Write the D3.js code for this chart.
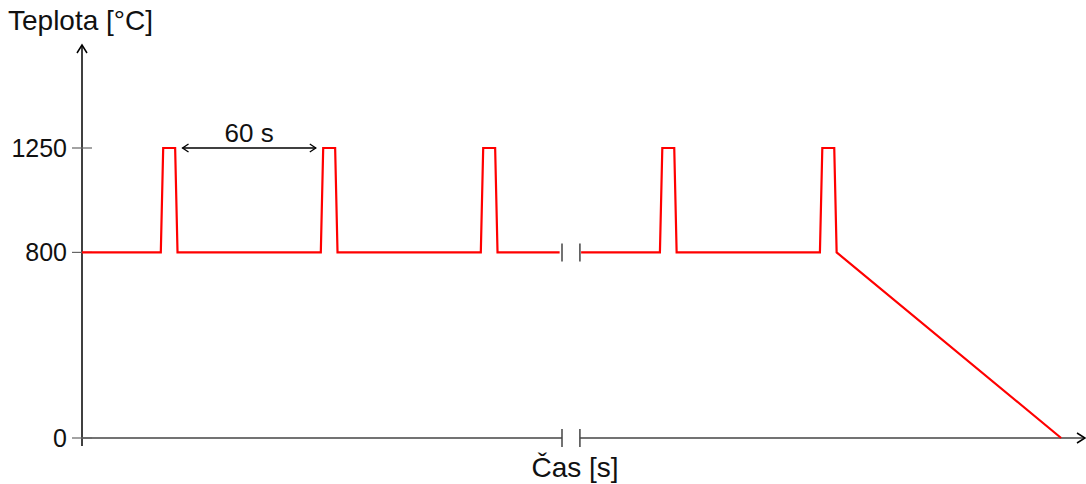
<!DOCTYPE html>
<html>
<head>
<meta charset="utf-8">
<script src="https://cdn.jsdelivr.net/npm/d3@7"></script>
<style>
  body { margin: 0; background: #fff; }
  svg text { font-family: "Liberation Sans", Arial, sans-serif; fill: #111; }
</style>
</head>
<body>
<svg width="1086" height="484"></svg>
<script>
// temperature profile, time in seconds (compressed axis with a break)
const seg1Time = [0, 33, 34, 39, 40, 100, 101, 106, 107, 167, 168, 173, 174, 200];
const seg1Temp = [800, 800, 1250, 1250, 800, 800, 1250, 1250, 800, 800, 1250, 1250, 800, 800];
const seg2Time = [209, 242, 243, 248, 249, 309, 310, 315, 316, 410];
const seg2Temp = [800, 800, 1250, 1250, 800, 800, 1250, 1250, 800, 0];
const yTicks = [0, 800, 1250];
const breakAt = [201, 208.5];
const gapFrom = 40, gapTo = 100; // the "60 s" gap
const gapLabel = "60 s";

const svg = d3.select("svg");
const x = d3.scaleLinear([0, 420], [82, 1085]);
const y = d3.scaleLinear([0, 1250], [438, 148]);

// y axis
svg.append("line").attr("x1", 82).attr("x2", 82).attr("y1", 46).attr("y2", 446)
  .attr("stroke", "#000").attr("stroke-width", 1.5);
svg.append("path").attr("d", "M77,53 L82,45 L87,53").attr("fill", "none")
  .attr("stroke", "#000").attr("stroke-width", 1.5);

// x axis with break
svg.append("line").attr("x1", 82).attr("x2", x(breakAt[0])).attr("y1", y(0)).attr("y2", y(0))
  .attr("stroke", "#444").attr("stroke-width", 1.5);
svg.append("line").attr("x1", x(breakAt[1])).attr("x2", 1084).attr("y1", y(0)).attr("y2", y(0))
  .attr("stroke", "#444").attr("stroke-width", 1.5);
svg.append("path").attr("d", "M1077,433 L1085,438 L1077,443").attr("fill", "none")
  .attr("stroke", "#000").attr("stroke-width", 1.5);

// break marks
breakAt.forEach(b => {
  [y(0), y(800)].forEach(yy => {
    svg.append("line").attr("x1", x(b)).attr("x2", x(b)).attr("y1", yy - 9).attr("y2", yy + 9)
      .attr("stroke", "#444").attr("stroke-width", 1.5);
  });
});

// y ticks
svg.selectAll(".yt").data(yTicks).enter().append("line")
  .attr("x1", 72).attr("x2", 92)
  .attr("y1", d => y(d)).attr("y2", d => y(d))
  .attr("stroke", "#666").attr("stroke-width", 1.2);
svg.selectAll(".yl").data(yTicks).enter().append("text")
  .attr("x", 67).attr("y", d => y(d) + 9)
  .attr("text-anchor", "end").attr("font-size", 25)
  .text(d => d);

// temperature line
const line = d3.line().x(d => x(d[0])).y(d => y(d[1]));
[[seg1Time, seg1Temp], [seg2Time, seg2Temp]].forEach(([t, v]) => {
  svg.append("path").datum(t.map((d, i) => [d, v[i]]))
    .attr("d", line).attr("fill", "none")
    .attr("stroke", "#ff0000").attr("stroke-width", 2.2).attr("stroke-linejoin", "miter");
});

// 60 s double arrow
const ax1 = x(gapFrom) + 5, ax2 = x(gapTo) - 5, ay = y(1250);
svg.append("line").attr("x1", ax1).attr("x2", ax2).attr("y1", ay).attr("y2", ay)
  .attr("stroke", "#000").attr("stroke-width", 1.3);
svg.append("path").attr("d", `M${ax1 + 6},${ay - 4} L${ax1},${ay} L${ax1 + 6},${ay + 4}`)
  .attr("fill", "none").attr("stroke", "#000").attr("stroke-width", 1.3);
svg.append("path").attr("d", `M${ax2 - 6},${ay - 4} L${ax2},${ay} L${ax2 - 6},${ay + 4}`)
  .attr("fill", "none").attr("stroke", "#000").attr("stroke-width", 1.3);
svg.append("text").attr("x", (ax1 + ax2) / 2).attr("y", 142)
  .attr("text-anchor", "middle").attr("font-size", 26).text(gapLabel);

// axis titles
svg.append("text").attr("x", 8).attr("y", 30).attr("font-size", 28).text("Teplota [°C]");
svg.append("text").attr("x", 575).attr("y", 477).attr("text-anchor", "middle")
  .attr("font-size", 28).text("Čas [s]");
</script>
</body>
</html>
